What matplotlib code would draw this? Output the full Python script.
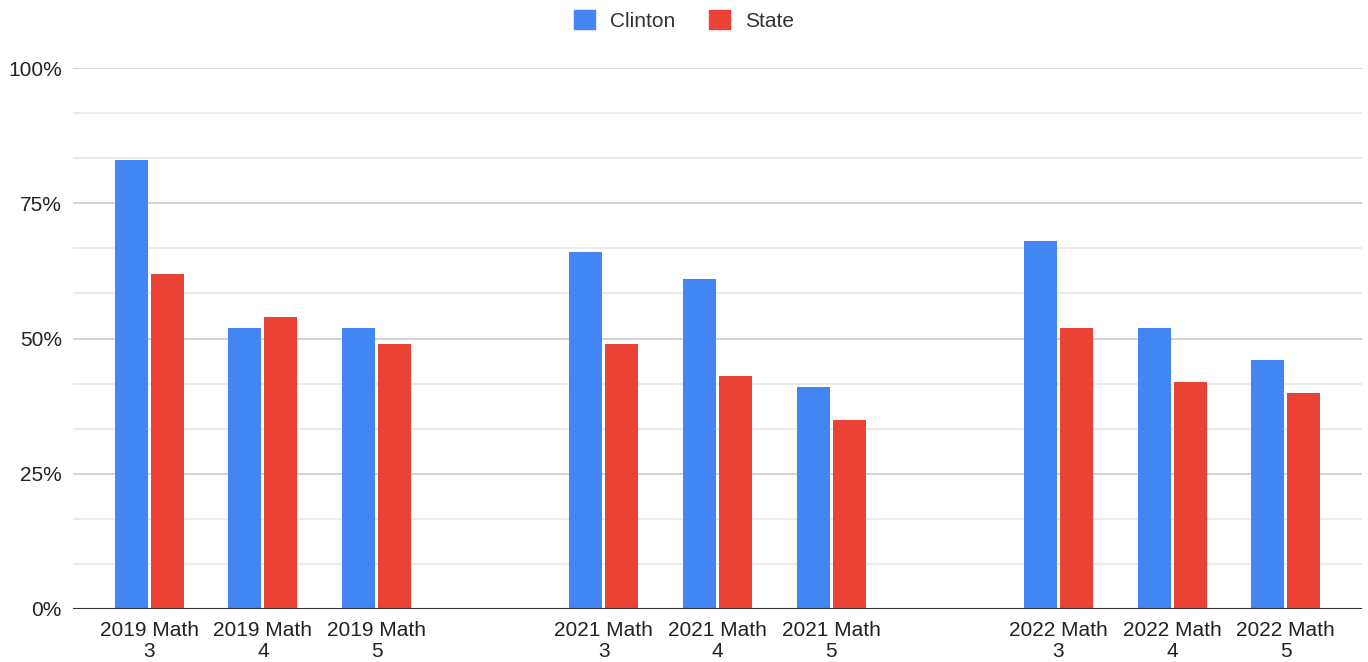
import matplotlib
matplotlib.use("Agg")
import matplotlib.pyplot as plt
from matplotlib.patches import Patch
from matplotlib.ticker import FuncFormatter, MultipleLocator

plt.rcParams['font.family'] = ['Liberation Sans', 'DejaVu Sans']

categories = ["2019 Math\n3", "2019 Math\n4", "2019 Math\n5", "",
              "2021 Math\n3", "2021 Math\n4", "2021 Math\n5", "",
              "2022 Math\n3", "2022 Math\n4", "2022 Math\n5"]
clinton = [83, 52, 52, None, 66, 61, 41, None, 68, 52, 46]
state = [62, 54, 49, None, 49, 43, 35, None, 52, 42, 40]
series_names = ["Clinton", "State"]
colors = ["#4285F4", "#EA4335"]

fig = plt.figure(figsize=(13.68, 6.62), dpi=100)
ax = fig.add_axes([73/1368, 1-609/662, (1362-73)/1368, (609-68)/662])

x = list(range(len(categories)))
w = 0.29
off = 0.158
for vals, sign, c in [(clinton, -1, colors[0]), (state, 1, colors[1])]:
    xs = [xi + sign*off for xi, v in zip(x, vals) if v is not None]
    vs = [v for v in vals if v is not None]
    ax.bar(xs, vs, width=w, color=c, zorder=3)

ax.set_xlim(-0.67, len(categories) - 1 + 0.67)
ax.set_ylim(0, 100)
ax.yaxis.set_major_locator(MultipleLocator(25))
ax.yaxis.set_minor_locator(MultipleLocator(25/3))
ax.yaxis.set_major_formatter(FuncFormatter(lambda v, p: f"{int(v)}%"))
ax.grid(axis='y', which='major', color='#cccccc', linewidth=1.2, zorder=0)
ax.grid(axis='y', which='minor', color='#e6e6e6', linewidth=1.2, zorder=0)
ax.axhline(0, color='#333333', linewidth=1.5, zorder=4)

ax.set_xticks([xi for xi, c in zip(x, categories) if c])
ax.set_xticklabels([c for c in categories if c], fontsize=15, color='#222222',
                   linespacing=1.1)
ax.tick_params(axis='x', length=0, pad=9)
ax.tick_params(axis='y', which='both', length=0, pad=8, labelsize=15, labelcolor='#222222')
for s in ax.spines.values():
    s.set_visible(False)

handles = [Patch(facecolor=c, edgecolor=c, label=n) for n, c in zip(series_names, colors)]
fig.legend(handles=handles, loc='upper center', bbox_to_anchor=(0.5, 0.997), ncol=2,
           frameon=False, fontsize=15, handlelength=1.0, handleheight=1.0,
           handletextpad=0.75, columnspacing=1.6, labelcolor='#333333',
           borderaxespad=0.0)

fig.savefig("out.png", dpi=100)
